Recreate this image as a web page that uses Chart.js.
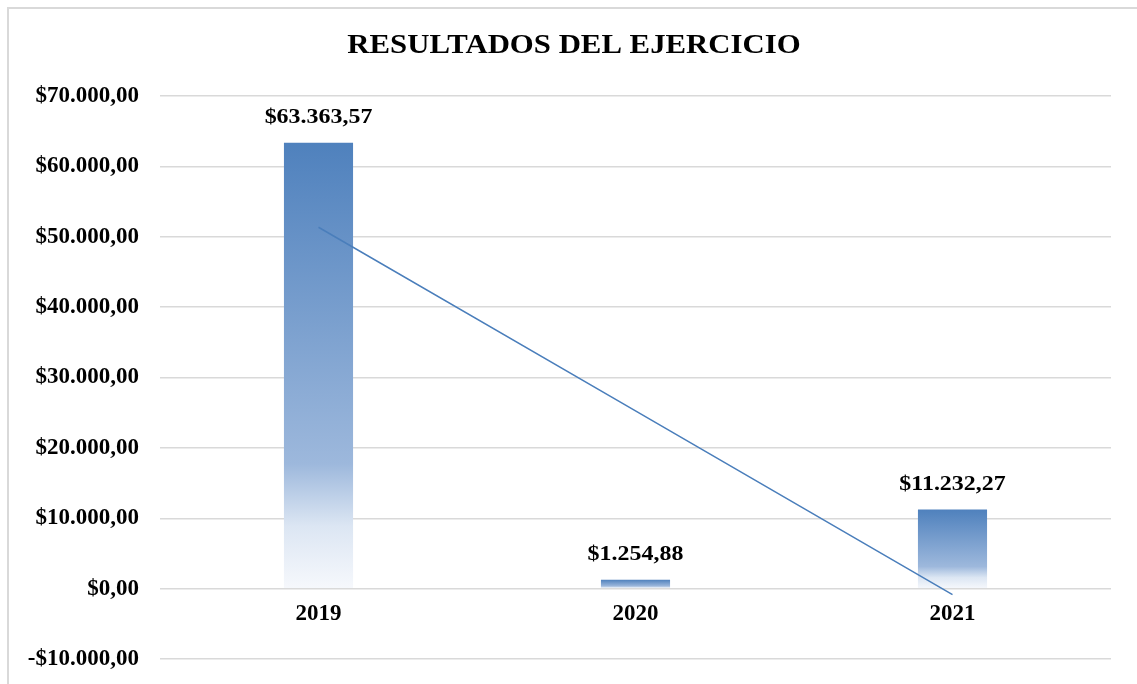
<!DOCTYPE html>
<html>
<head>
<meta charset="utf-8">
<script src="https://cdn.jsdelivr.net/npm/chart.js@4"></script>
<style>
    body { margin: 0; background: #fff; }
    #wrap { position: relative; width: 1137px; height: 684px; overflow: hidden; }
    #frame {
        position: absolute; left: 7px; top: 7px; width: 1200px; height: 800px;
        border-top: 2px solid #d9d9d9; border-left: 2px solid #d9d9d9;
    }
    #chart { position: absolute; left: 0; top: 0; }
</style>
</head>
<body>
<div id="wrap">
    <div id="frame"></div>
    <canvas id="chart" width="1137" height="684"></canvas>
</div>
<script>
const years = ['2019', '2020', '2021'];
const results = [63363.57, 1254.88, 11232.27];
// linear trend line
const trend = [51350, 25250, -850];
const yTicks = [-10000, 0, 10000, 20000, 30000, 40000, 50000, 60000, 70000];

const FONT = "'Liberation Serif', 'Times New Roman', serif";
const STRETCH = 1.14; // the reference text is a bit wider than plain Times

function money(v, decimals = 2) {
    const neg = v < 0;
    const parts = Math.abs(v).toFixed(decimals).split('.');
    const int = parts[0].replace(/\B(?=(\d{3})+(?!\d))/g, '.');
    return (neg ? '-' : '') + '$' + int + ',' + parts[1];
}

function barGradient(c) {
    const chart = c.chart;
    const { ctx, chartArea } = chart;
    if (!chartArea) return '#4f81bd';
    const y = chart.scales.y;
    const top = y.getPixelForValue(c.raw);
    const base = y.getPixelForValue(0);
    const g = ctx.createLinearGradient(0, top, 0, base);
    g.addColorStop(0, '#4f81bd');
    g.addColorStop(0.72, '#9db8dc');
    g.addColorStop(0.86, '#dce6f3');
    g.addColorStop(1, '#f6f8fc');
    return g;
}

function wideText(ctx, text, x, y) {
    ctx.save();
    ctx.translate(x, y);
    ctx.scale(STRETCH, 1);
    ctx.fillText(text, 0, 0);
    ctx.restore();
}

// Title and value labels
const decor = {
    id: 'decor',
    afterDraw(chart) {
        const ctx = chart.ctx;
        ctx.save();
        ctx.fillStyle = '#000';
        ctx.textAlign = 'center';
        ctx.textBaseline = 'middle';
        ctx.font = 'bold 27px ' + FONT;
        wideText(ctx, 'RESULTADOS DEL EJERCICIO', 574, 46);

        ctx.font = 'bold 21px ' + FONT;
        const meta = chart.getDatasetMeta(1);
        meta.data.forEach((bar, i) => {
            wideText(ctx, money(results[i]), bar.x, bar.y - 25);
        });
        ctx.restore();
    }
};

new Chart(document.getElementById('chart'), {
    data: {
        labels: years,
        datasets: [
            {
                type: 'line',
                data: trend,
                borderColor: '#4a7ebb',
                borderWidth: 1.5,
                pointRadius: 0,
                tension: 0,
                order: 0
            },
            {
                type: 'bar',
                data: results,
                backgroundColor: barGradient,
                borderWidth: 0,
                categoryPercentage: 1,
                barPercentage: 0.218,
                order: 1
            }
        ]
    },
    options: {
        responsive: false,
        animation: false,
        layout: { padding: { top: 96, bottom: 25, left: 10, right: 26 } },
        plugins: {
            legend: { display: false },
            title: { display: false },
            tooltip: { enabled: false }
        },
        scales: {
            x: {
                position: { y: 0 },
                grid: { display: false },
                border: { display: false },
                ticks: {
                    color: '#000',
                    padding: 4,
                    font: { family: FONT, size: 23, weight: 'bold' }
                }
            },
            y: {
                min: -10000,
                max: 70000,
                afterFit(scale) { scale.width = 150; },
                afterBuildTicks(scale) { scale.ticks = yTicks.map(v => ({ value: v })); },
                grid: { color: '#d9d9d9', lineWidth: 1.5, drawTicks: true, tickLength: 21, tickColor: 'rgba(0,0,0,0)' },
                border: { display: false },
                ticks: {
                    color: '#000',
                    padding: 0,
                    font: { family: FONT, size: 23, weight: 'bold' },
                    callback: v => money(v)
                }
            }
        }
    },
    plugins: [decor]
});
</script>
</body>
</html>
